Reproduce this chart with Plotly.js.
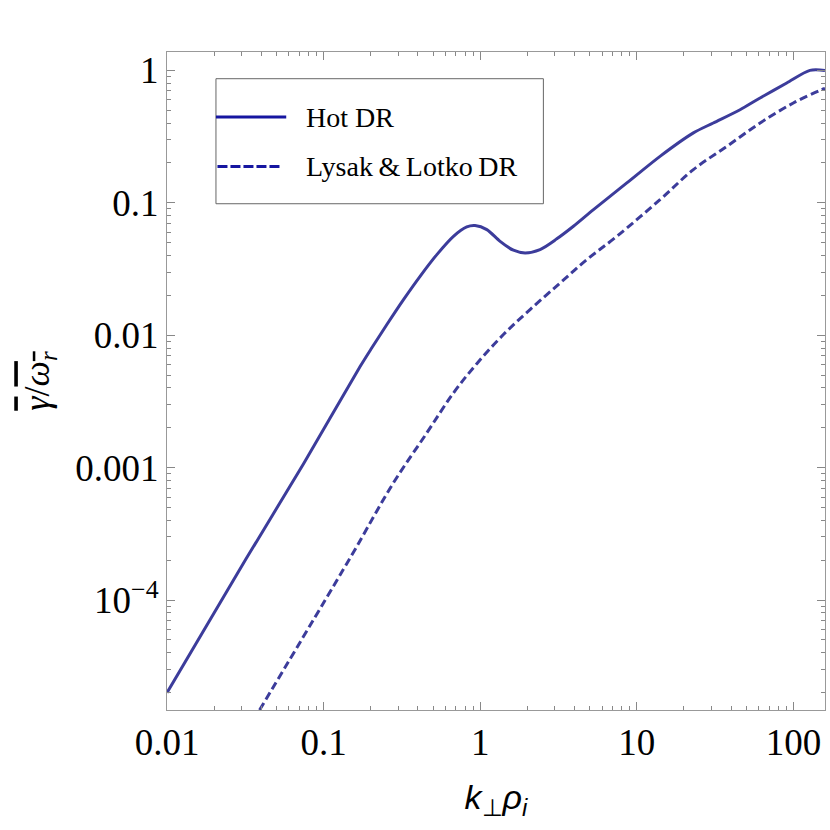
<!DOCTYPE html>
<html>
<head>
<meta charset="utf-8">
<script src="https://cdn.plot.ly/plotly-3.0.1.min.js"></script>
<style>html,body{margin:0;padding:0;background:#fff;}#chart{width:830px;height:830px;}</style>
</head>
<body>
<div id="chart"></div>
<script>
// k_perp * rho_i values and growth-rate ratio
const seriesNames = ["Hot DR", "Lysak\u2009&\u2009Lotko\u2009DR"];

const hotK = [0.01, 0.03192, 0.07447, 0.1714, 0.2032, 0.2535, 0.3236, 0.4130, 0.5284, 0.6745,
  0.8204, 0.9268, 1.102, 1.340, 1.629, 1.936, 2.410, 3.083, 3.936, 5.284, 8.630, 14.06,
  22.96, 30.76, 45.60, 61.24, 90.57, 127.4, 158.9];
const hotGamma = [2.0e-5, 2.04e-4, 1.072e-3, 5.83e-3, 8.04e-3, 0.01205, 0.01858, 0.02786, 0.04064, 0.05585,
  0.06577, 0.06730, 0.06281, 0.05117, 0.04385, 0.04188, 0.04436, 0.05346, 0.0665, 0.0889, 0.1413, 0.2244,
  0.3373, 0.4009, 0.5047, 0.6194, 0.8035, 1.0, 1.0];

const llK = [0.039, 0.1479, 0.2793, 0.456, 0.675, 0.951, 1.406, 2.080, 3.236, 4.786, 7.447,
  14.06, 22.96, 37.50, 61.24, 99.8, 147.6, 158.9];
const llGamma = [1.48e-5, 2.09e-4, 7.69e-4, 1.83e-3, 3.67e-3, 6.10e-3, 0.01012, 0.01563, 0.0248,
  0.0372, 0.0558, 0.1057, 0.1782, 0.2667, 0.4009, 0.5675, 0.7063, 0.73];

const xTickVals = [0.01, 0.1, 1, 10, 100];
const xTickText = ["0.01", "0.1", "1", "10", "100"];
const yTickVals = [1e-4, 1e-3, 0.01, 0.1, 1];
const yTickText = ["10<sup>\u22124</sup>", "0.001", "0.01", "0.1", "1"];

function minorVals(lo, hi) {
  const v = [];
  for (let e = lo; e <= hi; e++) for (let d = 2; d <= 9; d++) v.push(d * Math.pow(10, e));
  return v;
}

const curveColor = "rgb(60,60,155)";
const legendColor = "rgb(22,22,160)";

const traces = [
  {x: hotK, y: hotGamma, type: "scatter", mode: "lines", name: seriesNames[0], showlegend: false,
   line: {color: curveColor, width: 3, shape: "spline", smoothing: 0.8}},
  {x: llK, y: llGamma, type: "scatter", mode: "lines", name: seriesNames[1], showlegend: false,
   line: {color: curveColor, width: 3, dash: "8px,4px", shape: "spline", smoothing: 1}}
];

const axisCommon = {
  type: "log", showgrid: false, zeroline: false,
  showline: true, linecolor: "#999", linewidth: 1, mirror: "ticks",
  ticks: "inside", ticklen: 8, tickwidth: 1, tickcolor: "#888",
  tickfont: {family: "Liberation Serif, Times New Roman, serif", size: 37, color: "#000"},
  tickmode: "array"
};

const layout = {
  width: 830, height: 830,
  margin: {l: 167, r: 5, t: 52, b: 120},
  paper_bgcolor: "#fff", plot_bgcolor: "#fff",
  showlegend: false,
  xaxis: Object.assign({}, axisCommon, {
    range: [Math.log10(0.01), Math.log10(159)],
    tickvals: xTickVals, ticktext: xTickText,
    minor: {tickmode: "array", tickvals: minorVals(-2, 2), ticks: "inside", ticklen: 4, tickcolor: "#888", showgrid: false},
    title: {text: "<i>k</i><sub>\u22a5</sub><i>\u03c1</i><sub><i>i</i></sub>",
            font: {family: "Liberation Sans, Arial, sans-serif", size: 34, color: "#000"}, standoff: 22}
  }),
  yaxis: Object.assign({}, axisCommon, {
    range: [Math.log10(1.48e-5), Math.log10(1.377)],
    tickvals: yTickVals, ticktext: yTickText,
    minor: {tickmode: "array", tickvals: minorVals(-5, 0), ticks: "inside", ticklen: 4, tickcolor: "#888", showgrid: false},
    title: {text: "<span style=\"text-decoration:overline\"><i>\u03b3</i></span>/<span style=\"text-decoration:overline\"><i>\u03c9</i><sub><i>r</i></sub></span>",
            font: {family: "Liberation Serif, Times New Roman, serif", size: 36, color: "#000"}, standoff: 14}
  }),
  shapes: [
    {type: "rect", xref: "paper", yref: "paper", x0: 0.0744, x1: 0.572, y0: 0.7694, y1: 0.9594,
     line: {color: "#666", width: 1}, fillcolor: "#fff", layer: "above"},
    {type: "line", xref: "paper", yref: "paper", x0: 0.0744, x1: 0.1812, y0: 0.9012, y1: 0.9012,
     line: {color: legendColor, width: 3}, layer: "above"},
    {type: "line", xref: "paper", yref: "paper", x0: 0.0767, x1: 0.172, y0: 0.8261, y1: 0.8261,
     line: {color: legendColor, width: 3, dash: "10px,3px"}, layer: "above"}
  ],
  annotations: [
    {xref: "paper", yref: "paper", x: 0.2086, y: 0.9012, xanchor: "left", yanchor: "middle",
     text: seriesNames[0], showarrow: false,
     font: {family: "Liberation Serif, Times New Roman, serif", size: 28, color: "#000"}},
    {xref: "paper", yref: "paper", x: 0.2086, y: 0.8261, xanchor: "left", yanchor: "middle",
     text: seriesNames[1], showarrow: false,
     font: {family: "Liberation Serif, Times New Roman, serif", size: 28, color: "#000"}}
  ]
};

Plotly.newPlot("chart", traces, layout, {staticPlot: true, displayModeBar: false});
</script>
</body>
</html>
